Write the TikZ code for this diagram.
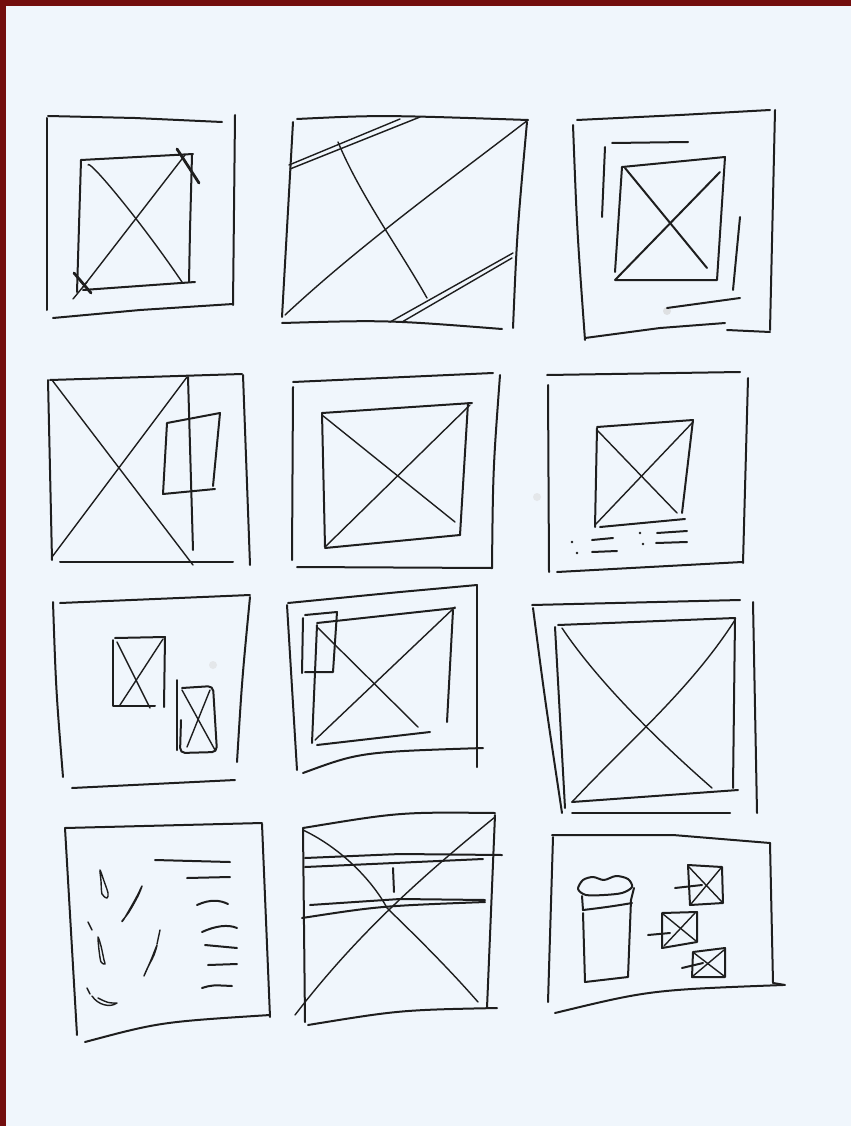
\documentclass[tikz,border=0pt]{standalone}
\usetikzlibrary{calc}
\definecolor{paper}{RGB}{240,246,252}
\definecolor{frame}{RGB}{115,14,14}
\definecolor{ink}{RGB}{30,30,30}
\begin{document}
\begin{tikzpicture}[x=1pt,y=-1pt,
  pen/.style={draw=ink,line width=2.0pt,line cap=round,line join=round},
  fine/.style={draw=ink,line width=1.4pt,line cap=round,line join=round},
  thickmark/.style={draw=ink,line width=2.8pt,line cap=round}]
% background
\fill[paper] (0,0) rectangle (851,1126);
\fill[frame] (0,0) rectangle (851,6);
\fill[frame] (0,0) rectangle (6,1126);
\useasboundingbox (0,0) rectangle (851,1126);
% smudges
\fill[gray!35,opacity=0.6] (667,311) circle (4);
\fill[gray!30,opacity=0.5] (537,497) circle (4);
\fill[gray!30,opacity=0.5] (213,665) circle (4);

% ---------------- Panel 1 ----------------
\draw[pen] (48,116) -- (135,118) -- (222,122);
\draw[pen] (47,118) -- (47,310);
\draw[pen] (235,115) -- (233,305);
\draw[pen] (53,318) -- (140,310) -- (233,304);
\draw[pen] (81,160) -- (193,154);
\draw[pen] (192,155) -- (190,230) -- (189,282);
\draw[pen] (81,160) -- (77,292);
\draw[pen] (83,290) -- (195,282);
\draw[fine] (88,165) .. controls (88,158) and (140,220) .. (182,282);
\draw[fine] (83,287) -- (185,155);
\draw[thickmark] (177,149) -- (199,183);
\draw[thickmark] (74,273) -- (91,293);
\draw[fine] (73,299) -- (87,282);

% ---------------- Panel 2 ----------------
\draw[pen] (293,122) .. controls (287,220) .. (282,317);
\draw[pen] (297,119) .. controls (380,115) .. (528,120);
\draw[pen] (527,122) .. controls (517,233) .. (513,328);
\draw[pen] (282,323) .. controls (387,320) .. (502,329);
\draw[fine] (528,120) .. controls (450,180) and (360,245) .. (285,315);
\draw[fine] (338,142) .. controls (360,195) and (400,250) .. (427,298);
\draw[fine] (289,165) -- (400,119);
\draw[fine] (290,169) -- (420,117);
\draw[fine] (390,322) -- (513,253);
\draw[fine] (402,322) -- (512,258);

% ---------------- Panel 3 ----------------
\draw[pen] (573,125) .. controls (577,230) .. (585,340);
\draw[pen] (577,120) -- (680,115) -- (770,110);
\draw[pen] (775,110) -- (770,330);
\draw[pen] (585,338) -- (660,328) -- (725,323);
\draw[pen] (727,330) -- (770,332);
\draw[pen] (605,147) -- (602,217);
\draw[pen] (612,143) -- (688,142);
\draw[pen] (740,217) -- (733,290);
\draw[pen] (667,308) -- (740,298);
\draw[pen] (622,167) -- (725,157) -- (717,280) -- (615,280);
\draw[pen] (622,167) -- (615,272);
\draw[pen] (625,168) -- (707,268);
\draw[pen] (615,280) -- (720,172);

% ---------------- Panel 4 ----------------
\draw[pen] (50,380) -- (242,374);
\draw[pen] (48,380) -- (52,560);
\draw[pen] (243,375) -- (250,565);
\draw[pen] (60,562) -- (233,562);
\draw[fine] (52,380) -- (193,565);
\draw[fine] (52,557) -- (187,377);
\draw[pen] (188,377) -- (193,550);
\draw[pen] (213,486) -- (220,413) -- (167,423) -- (163,494) -- (215,489);

% ---------------- Panel 5 ----------------
\draw[pen] (293,382) -- (493,373);
\draw[pen] (293,387) -- (292,560);
\draw[pen] (500,375) .. controls (493,470) .. (492,568);
\draw[pen] (297,567) -- (492,568);
\draw[pen] (322,413) -- (472,403);
\draw[pen] (468,403) -- (460,535);
\draw[pen] (325,548) -- (460,535);
\draw[pen] (322,413) -- (325,547);
\draw[fine] (322,415) -- (455,522);
\draw[fine] (325,547) -- (470,405);

% ---------------- Panel 6 ----------------
\draw[pen] (547,375) -- (740,372);
\draw[pen] (548,385) -- (549,572);
\draw[pen] (748,378) -- (743,563);
\draw[pen] (557,572) -- (742,562);
\draw[pen] (597,427) -- (693,420) -- (682,513);
\draw[pen] (597,428) -- (595,527);
\draw[pen] (600,527) -- (685,519);
\draw[fine] (597,430) -- (677,513);
\draw[fine] (595,525) -- (693,422);
\fill[ink] (572,542) circle (1.4) (577,553) circle (1.4) (640,533) circle (1.4) (643,544) circle (1.4);
\draw[pen] (592,540) -- (613,538);
\draw[pen] (592,552) -- (617,551);
\draw[pen] (657,533) -- (687,531);
\draw[pen] (656,543) -- (687,542);

% ---------------- Panel 7 ----------------
\draw[pen] (60,603) -- (250,595);
\draw[pen] (53,602) .. controls (56,690) .. (63,777);
\draw[pen] (250,597) .. controls (242,680) .. (237,762);
\draw[pen] (72,788) -- (235,780);
\draw[pen] (115,638) -- (165,637) -- (164,707);
\draw[pen] (113,640) -- (113,706) -- (155,706);
\draw[fine] (117,642) -- (150,708);
\draw[fine] (120,705) -- (163,639);
\draw[pen] (177,680) -- (177,750);
\draw[pen,rounded corners=5pt] (182,688) -- (213,686) -- (217,752) -- (180,753) -- (181,720);
\draw[fine] (182,690) -- (215,750);
\draw[fine] (187,747) -- (210,690);

% ---------------- Panel 8 ----------------
\draw[pen] (288,603) -- (400,592) -- (477,585);
\draw[pen] (287,605) -- (297,770);
\draw[pen] (477,585) -- (477,767);
\draw[pen] (303,773) .. controls (360,752) .. (483,748);
\draw[pen] (317,623) -- (455,608);
\draw[pen] (317,625) -- (312,743);
\draw[pen] (453,610) -- (447,722);
\draw[pen] (317,745) -- (430,732);
\draw[fine] (317,627) -- (418,727);
\draw[fine] (315,740) -- (455,607);
\draw[pen] (305,615) -- (337,612) -- (333,672) -- (305,672);
\draw[pen] (303,618) -- (302,673);

% ---------------- Panel 9 ----------------
\draw[pen] (532,605) -- (740,600);
\draw[pen] (533,608) .. controls (545,700) .. (562,813);
\draw[pen] (753,602) -- (757,813);
\draw[pen] (572,813) -- (730,813);
\draw[pen] (558,625) -- (735,618);
\draw[pen] (555,627) -- (565,808);
\draw[pen] (735,618) -- (733,788);
\draw[pen] (572,802) -- (738,790);
\draw[fine] (562,628) .. controls (590,670) and (640,725) .. (712,788);
\draw[fine] (572,802) .. controls (630,740) and (690,690) .. (735,620);

% ---------------- Panel 10 ----------------
\draw[pen] (65,828) -- (262,823);
\draw[pen] (65,828) -- (77,1035);
\draw[pen] (262,824) -- (270,1017);
\draw[pen] (85,1042) .. controls (160,1022) .. (270,1015);
\draw[pen] (155,860) -- (230,862);
\draw[pen] (187,878) -- (230,877);
\draw[pen] (197,905) .. controls (210,899) and (220,900) .. (228,904);
\draw[pen] (202,932) .. controls (215,926) and (228,924) .. (237,928);
\draw[pen] (205,945) -- (237,948);
\draw[pen] (208,965) -- (237,964);
\draw[pen] (202,988) .. controls (212,985) .. (232,986);
\draw[fine] plot[smooth cycle] coordinates {(100,870) (104,881) (108,893) (107,898) (102,894) (101,881)};
\draw[fine] plot[smooth cycle] coordinates {(142,886) (136,898) (124,919) (122,921) (129,912) (138,896)};
\draw[fine] (88,922) -- (92,930);
\draw[fine] plot[smooth cycle] coordinates {(98,937) (101,946) (104,960) (105,964) (101,962) (99,950)};
\draw[fine] (160,930) -- (157,944);
\draw[fine] plot[smooth cycle] coordinates {(157,945) (151,960) (144,976) (147,969) (154,955)};
\draw[fine] (87,988) -- (90,994);
\draw[fine] (92,996) .. controls (98,1005) and (110,1008) .. (117,1003) .. controls (108,1003) .. (98,998);

% ---------------- Panel 11 ----------------
\draw[pen] (303,828) .. controls (400,812) .. (495,813);
\draw[pen] (303,828) -- (305,1022);
\draw[pen] (495,815) -- (487,1008);
\draw[pen] (308,1025) .. controls (400,1010) .. (497,1008);
\draw[fine] (303,830) .. controls (345,850) and (375,885) .. (387,908) .. controls (420,940) and (450,970) .. (478,1002);
\draw[fine] (295,1015) .. controls (360,930) and (430,870) .. (495,817);
\draw[pen] (305,858) -- (400,854) -- (502,855);
\draw[pen] (305,867) -- (483,859);
\draw[pen] (310,905) -- (400,899) -- (485,900);
\draw[pen] (302,918) .. controls (380,906) .. (485,902);
\draw[pen] (393,868) -- (394,892);

% ---------------- Panel 12 ----------------
\draw[pen] (552,835) -- (673,835) -- (770,843);
\draw[pen] (553,837) -- (548,1002);
\draw[pen] (770,843) -- (773,983) -- (785,985);
\draw[pen] (555,1013) .. controls (650,990) .. (783,985);
\draw[pen] plot[smooth cycle] coordinates {(578,889) (583,880) (593,877) (604,880) (616,876) (628,879) (632,887) (622,893) (604,895) (586,895)};
\draw[pen] (582,896) -- (583,910) .. controls (600,908) and (615,906) .. (632,903);
\draw[pen] (583,913) -- (585,982) -- (628,977) -- (631,900) -- (634,888);
% box A
\draw[pen] (688,865) -- (722,867) -- (723,903) -- (690,905) -- cycle;
\draw[fine] (688,866) -- (722,902);
\draw[fine] (691,904) -- (721,868);
\draw[pen] (675,888) -- (702,885);
% box B
\draw[pen] (662,913) -- (697,912) -- (697,942) -- (662,948) -- cycle;
\draw[fine] (663,914) -- (696,941);
\draw[fine] (664,946) -- (695,913);
\draw[pen] (648,935) -- (670,933);
% box C
\draw[pen] (693,952) -- (725,948) -- (725,977) -- (692,977) -- cycle;
\draw[fine] (694,953) -- (724,976);
\draw[fine] (693,976) -- (724,950);
\draw[pen] (682,968) -- (703,963);
\end{tikzpicture}
\end{document}
